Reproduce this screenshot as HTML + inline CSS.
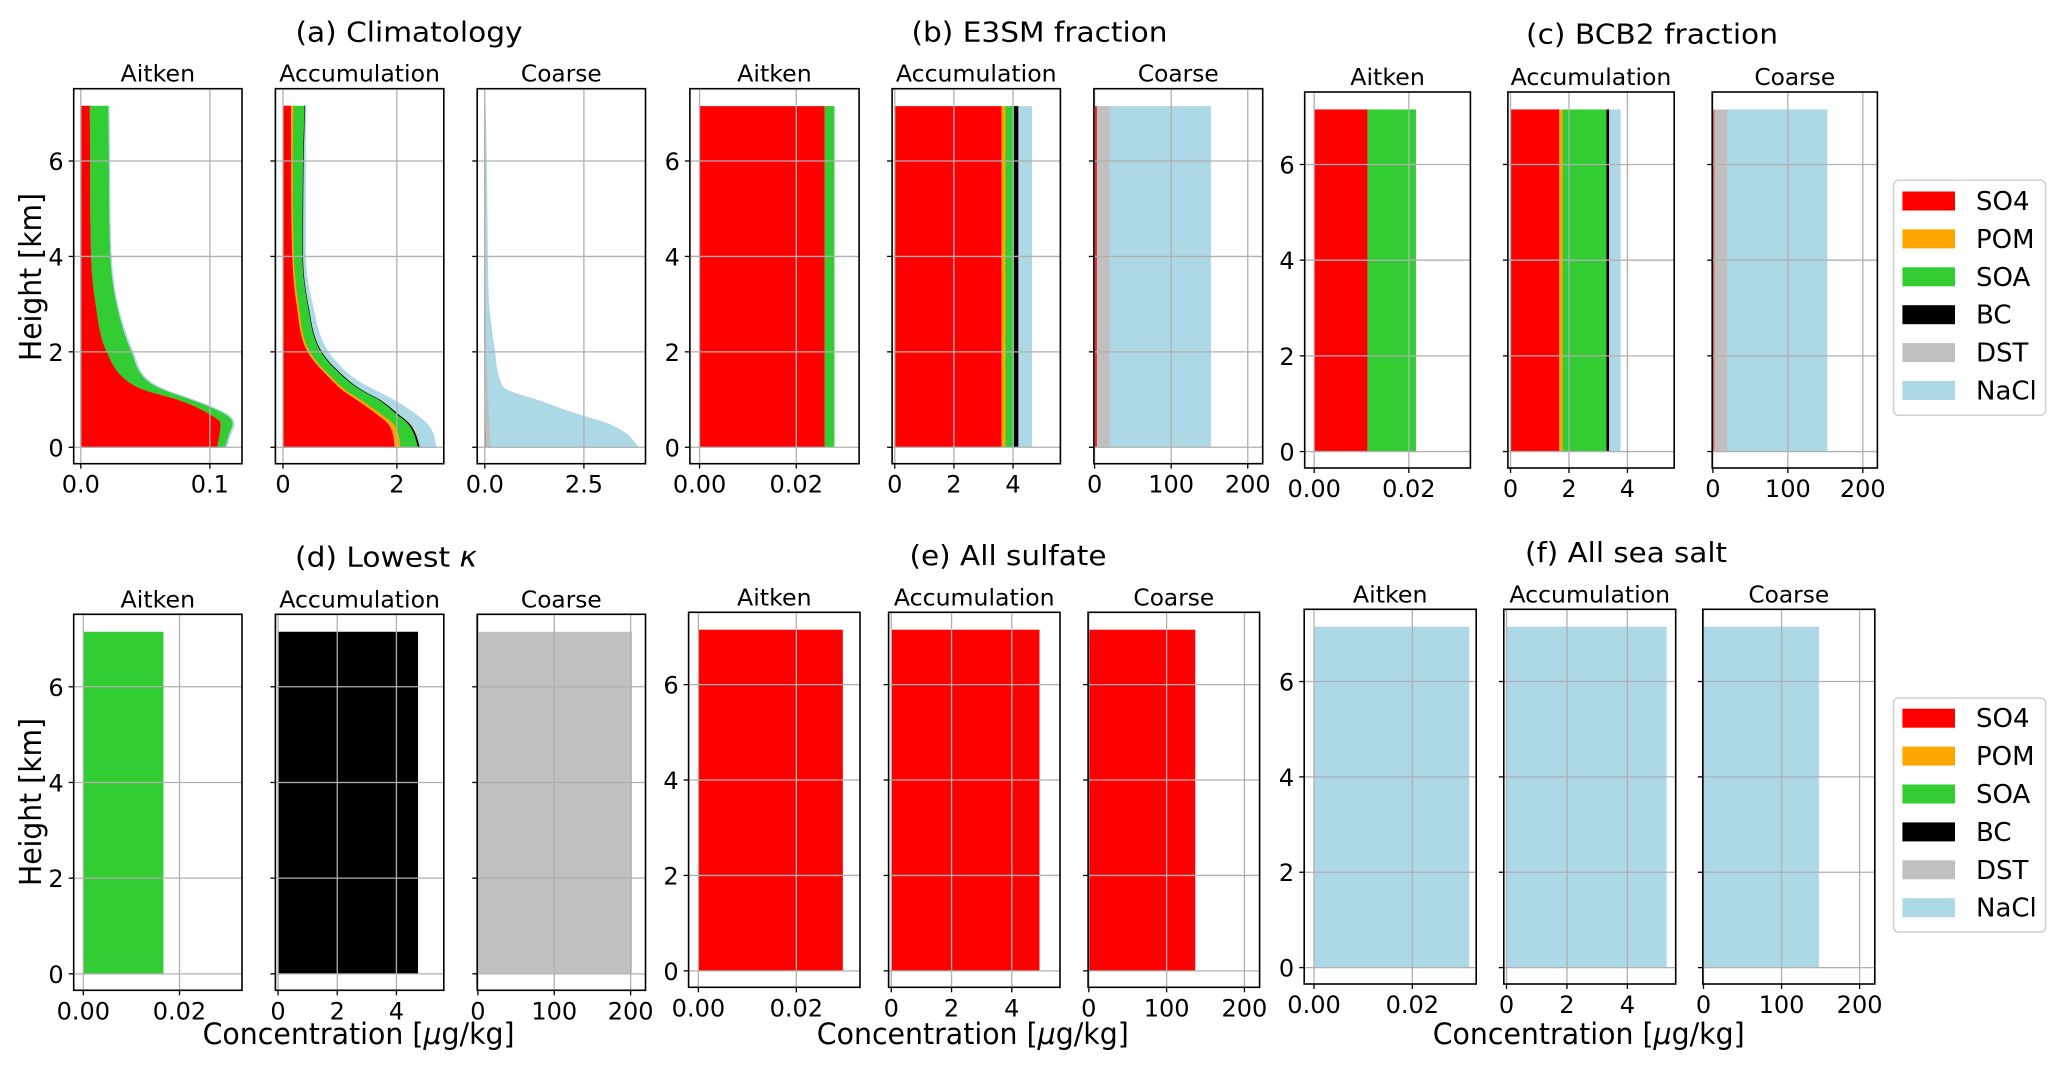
<!DOCTYPE html>
<html><head><meta charset="utf-8"><style>
html,body{margin:0;padding:0;background:#fff;}
svg{display:block;font-family:"DejaVu Sans","Liberation Sans",sans-serif;}
</style></head><body>
<svg id="fig" width="2067" height="1075" viewBox="0 0 2067 1075" xmlns="http://www.w3.org/2000/svg"></svg>
<script>
// ---- data ----
const species = ['SO4','POM','SOA','BC','DST','NaCl'];
const heights = [0,0.3,0.5,0.7,1.0,1.2,1.4,2,3,4,6,7.15];
// climatology Aitken (per species, ug/kg)
const climAitSO4 = [0.106,0.108,0.1087,0.1,0.0758,0.05,0.036,0.0204,0.0118,0.0083,0.0075,0.0073];
const climAitPOM = [0,0,0,0,0,0,0,0,0,0,0,0];
const climAitSOA = [0.006,0.0075,0.0093,0.012,0.0102,0.015,0.0156,0.0191,0.0162,0.0149,0.0145,0.0142];
const climAitBC  = [0,0,0,0,0,0,0,0,0,0,0,0];
const climAitDST = [0,0,0,0,0,0,0,0,0,0,0,0];
const climAitNaCl= [0.001,0.001,0.001,0.001,0.001,0.001,0.001,0.001,0.0005,0.0005,0.0005,0.0005];
// climatology Accumulation
const climAccSO4 = [1.97,1.93,1.85,1.65,1.30,1.05,0.87,0.44,0.245,0.17,0.15,0.149];
const climAccPOM = [0.10,0.10,0.09,0.08,0.07,0.06,0.05,0.04,0.035,0.03,0.03,0.04];
const climAccSOA = [0.31,0.27,0.26,0.27,0.32,0.27,0.225,0.195,0.16,0.15,0.18,0.196];
const climAccBC  = [0.03,0.03,0.03,0.03,0.02,0.02,0.02,0.015,0.01,0.01,0.01,0.01];
const climAccDST = [0.01,0.01,0.01,0.01,0.01,0.01,0.01,0.005,0.005,0.005,0.005,0.005];
const climAccNaCl= [0.27,0.29,0.28,0.28,0.21,0.19,0.125,0.10,0.06,0.03,0.02,0.005];
// climatology Coarse
const climCoaSO4 = [0.03,0.03,0.025,0.02,0.015,0.01,0.01,0.005,0.003,0.002,0.001,0.001];
const climCoaPOM = [0,0,0,0,0,0,0,0,0,0,0,0];
const climCoaSOA = [0,0,0,0,0,0,0,0,0,0,0,0];
const climCoaBC  = [0,0,0,0,0,0,0,0,0,0,0,0];
const climCoaDST = [0.12,0.11,0.1,0.09,0.08,0.07,0.06,0.04,0.03,0.02,0.01,0.01];
const climCoaNaCl= [3.72,3.40,2.955,2.19,1.185,0.47,0.31,0.205,0.067,0.048,0.029,0.0];
// column-uniform composition (SO4,POM,SOA,BC,DST,NaCl)
const e3smAit = [0.0259,0,0.002,0,0,0];
const e3smAcc = [3.61,0.13,0.29,0.15,0.03,0.43];
const e3smCoa = [3,0,0,0,17,132];
const bcb2Ait = [0.0113,0,0.0102,0,0,0];
const bcb2Acc = [1.67,0.11,1.50,0.09,0.05,0.35];
const bcb2Coa = [2,0,0,0,18,132.7];
const lowkAit = [0,0,0.01666,0,0,0];
const lowkAcc = [0,0,0,4.73,0,0];
const lowkCoa = [0,0,0,0,201.7,0];
const sulfAit = [0.0295,0,0,0,0,0];
const sulfAcc = [4.92,0,0,0,0,0];
const sulfCoa = [136.8,0,0,0,0,0];
const saltAit = [0,0,0,0,0,0.0316];
const saltAcc = [0,0,0,0,0,5.30];
const saltCoa = [0,0,0,0,0,148];
const barTop = 7.15;
const yTicks = [0,2,4,6];
const modeNames = ['Aitken','Accumulation','Coarse'];

// ---- style / layout ----
const colors = ['#ff0000','#ffa500','#32cd32','#000000','#c0c0c0','#add8e6'];
const NS = 'http://www.w3.org/2000/svg';
const svg = document.getElementById('fig');
function mk(tag, attrs, parent){
  const e = document.createElementNS(NS, tag);
  for (const k in attrs) e.setAttribute(k, attrs[k]);
  (parent||svg).appendChild(e);
  return e;
}
// monotone cubic (Fritsch-Carlson) interpolation of ys over xs
function monotone(xs, ys){
  const n = xs.length, d = [], m = new Array(n);
  for (let i = 0; i < n-1; i++) d.push((ys[i+1]-ys[i])/(xs[i+1]-xs[i]));
  m[0] = d[0]; m[n-1] = d[n-2];
  for (let i = 1; i < n-1; i++) m[i] = (d[i-1]*d[i] <= 0) ? 0 : (d[i-1]+d[i])/2;
  for (let i = 0; i < n-1; i++){
    if (d[i] === 0){ m[i] = 0; m[i+1] = 0; continue; }
    const a = m[i]/d[i], b = m[i+1]/d[i], s = a*a + b*b;
    if (s > 9){ const t = 3/Math.sqrt(s); m[i] = t*a*d[i]; m[i+1] = t*b*d[i]; }
  }
  return function(x){
    let i = 0; while (i < n-2 && x > xs[i+1]) i++;
    const h = xs[i+1]-xs[i], t = (x-xs[i])/h, t2 = t*t, t3 = t2*t;
    return (2*t3-3*t2+1)*ys[i] + (t3-2*t2+t)*h*m[i] + (-2*t3+3*t2)*ys[i+1] + (t3-t2)*h*m[i+1];
  };
}
const ylim = [-0.344, 7.515];
const groups = [
  {id:'a', title:'(a) Climatology', tx:409, ty:41.7, tw:227, top:88.7, bottom:463.7,
   boxes:[[73.7,242],[275.4,443.8],[477.2,645.5]],
   xlims:[[-0.0055,0.1249],[-0.133,2.824],[-0.192,4.054]],
   xt:[[0,0.1],[0,2],[0,2.5]], xtl:[['0.0','0.1'],['0','2'],['0.0','2.5']],
   clim:[[climAitSO4,climAitPOM,climAitSOA,climAitBC,climAitDST,climAitNaCl],
         [climAccSO4,climAccPOM,climAccSOA,climAccBC,climAccDST,climAccNaCl],
         [climCoaSO4,climCoaPOM,climCoaSOA,climCoaBC,climCoaDST,climCoaNaCl]]},
  {id:'b', title:'(b) E3SM fraction', tx:1039.5, ty:41.7, tw:256, top:88.7, bottom:463.7,
   boxes:[[689.9,859.1],[892.1,1060.4],[1093.9,1262.7]], bars:[e3smAit,e3smAcc,e3smCoa]},
  {id:'c', title:'(c) BCB2 fraction', tx:1652, ty:43.3, tw:252, top:92, bottom:468,
   boxes:[[1304.7,1470.4],[1507.9,1674.2],[1712.2,1877.4]], bars:[bcb2Ait,bcb2Acc,bcb2Coa]},
  {id:'d', title:'(d) Lowest ', kappa:true, tx:386, ty:566.7, tw:182, top:614.3, bottom:990.3,
   boxes:[[73.7,242],[275.4,443.8],[477.2,645.5]], bars:[lowkAit,lowkAcc,lowkCoa]},
  {id:'e', title:'(e) All sulfate', tx:1008, ty:565, tw:197, top:612.3, bottom:987.3,
   boxes:[[688.6,860],[888.6,1060],[1088.1,1259.6]], bars:[sulfAit,sulfAcc,sulfCoa]},
  {id:'f', title:'(f) All sea salt', tx:1626, ty:562, tw:202, top:609.3, bottom:984,
   boxes:[[1304.2,1476.2],[1503.8,1675.7],[1702.8,1874.8]], bars:[saltAit,saltAcc,saltCoa]}
];
const barXlims = [[-0.002,0.033],[-0.09,5.6],[-0.9,219.5]];
const barXt = [[0,0.02],[0,2,4],[0,100,200]];
const barXtl = [['0.00','0.02'],['0','2','4'],['0','100','200']];
const subW = [74.6,160.7,80.8];
const NS_SAMPLES = 120;

groups.forEach(g => {
  const gEl = mk('g', {});
  
  
  const t = mk('text', {x:g.tx, y:g.ty, 'text-anchor':'middle', 'font-size':28, fill:'#000', textLength:g.tw, lengthAdjust:'spacingAndGlyphs'}, gEl);
  t.textContent = g.title;
  if (g.kappa){ const ts = mk('tspan', {'font-style':'italic'}, t); ts.textContent = 'κ'; }
  
  

  g.boxes.forEach((b, i) => {
    const xl = g.clim ? g.xlims[i] : barXlims[i];
    const xt = g.clim ? g.xt[i] : barXt[i];
    const xtl = g.clim ? g.xtl[i] : barXtl[i];
    const L = b[0], R = b[1], T = g.top, B = g.bottom;
    const X = v => L + (v - xl[0]) / (xl[1] - xl[0]) * (R - L);
    const Y = v => B - (v - ylim[0]) / (ylim[1] - ylim[0]) * (B - T);
    const ax = mk('g', {}, gEl);
    
    
    mk('rect', {x:L, y:T, width:R-L, height:B-T, fill:'#fff'}, ax);
    if (g.clim){
      const comps = g.clim[i];
      const hMax = heights[heights.length-1];
      const hs = [];
      for (let s = 0; s <= NS_SAMPLES; s++) hs.push(hMax * s / NS_SAMPLES);
      let prevCum = heights.map(() => 0);
      let prevF = () => 0;
      comps.forEach((arr, k) => {
        const cum = arr.map((v, j) => prevCum[j] + v);
        const f = monotone(heights, cum);
        const pf = prevF;
        const pts = [];
        hs.forEach(h => pts.push(X(Math.max(f(h), pf(h))).toFixed(2) + ',' + Y(h).toFixed(2)));
        for (let s = hs.length - 1; s >= 0; s--) pts.push(X(pf(hs[s])).toFixed(2) + ',' + Y(hs[s]).toFixed(2));
        const p = mk('polygon', {points:pts.join(' '), fill:colors[k], stroke:colors[k], 'stroke-width':0.8}, ax);
        
        
        prevCum = cum;
        prevF = h => Math.max(f(h), pf(h));
      });
    } else {
      const vals = g.bars[i];
      let acc = 0;
      vals.forEach((v, k) => {
        if (v > 0){
          const r = mk('rect', {x:X(acc), y:Y(barTop), width:X(acc+v)-X(acc), height:Y(0)-Y(barTop), fill:colors[k]}, ax);
          
          
        }
        acc += v;
      });
    }
    xt.forEach(v => mk('line', {x1:X(v), x2:X(v), y1:T, y2:B, stroke:'#b0b0b0', 'stroke-width':1.3}, ax));
    yTicks.forEach(v => mk('line', {x1:L, x2:R, y1:Y(v), y2:Y(v), stroke:'#b0b0b0', 'stroke-width':1.3}, ax));
    mk('rect', {x:L, y:T, width:R-L, height:B-T, fill:'none', stroke:'#000', 'stroke-width':1.6}, ax);
    xt.forEach((v, j) => {
      mk('line', {x1:X(v), x2:X(v), y1:B, y2:B+5, stroke:'#000', 'stroke-width':1.3}, ax);
      const tl = mk('text', {x:X(v), y:B+29, 'text-anchor':'middle', 'font-size':24, fill:'#000'}, ax);
      tl.textContent = xtl[j];
      
      
    });
    yTicks.forEach(v => {
      mk('line', {x1:L-5, x2:L, y1:Y(v), y2:Y(v), stroke:'#000', 'stroke-width':1.3}, ax);
      if (i === 0){
        const tl = mk('text', {x:L-10, y:Y(v)+9, 'text-anchor':'end', 'font-size':24, fill:'#000'}, ax);
        tl.textContent = String(v);
        
        
      }
    });
    const st = mk('text', {x:(L+R)/2, y:T-7, 'text-anchor':'middle', 'font-size':23, fill:'#000', textLength:subW[i], lengthAdjust:'spacingAndGlyphs'}, ax);
    st.textContent = modeNames[i];
    
    
  });
});

[[31,277],[31,802]].forEach(p => {
  const t = mk('text', {x:0, y:0, transform:'translate(' + (p[0]+10) + ',' + p[1] + ') rotate(-90)', 'text-anchor':'middle', 'font-size':30, fill:'#000', textLength:168, lengthAdjust:'spacingAndGlyphs'});
  t.textContent = 'Height [km]';
  
  
});
[358.6, 972.8, 1588.7].forEach(cx => {
  const t = mk('text', {x:cx, y:1044, 'text-anchor':'middle', 'font-size':29, fill:'#000', textLength:312, lengthAdjust:'spacingAndGlyphs'});
  t.appendChild(document.createTextNode('Concentration ['));
  const m = mk('tspan', {'font-style':'italic'}, t); m.textContent = 'μ';
  t.appendChild(document.createTextNode('g/kg]'));
  
  
});
[[180.3,415.3,201],[698,932,718.2]].forEach((lg, li) => {
  const gl = mk('g', {});
  
  
  mk('rect', {x:1893.6, y:lg[0], width:152, height:lg[1]-lg[0], rx:5, fill:'#fff', stroke:'#d0d0d0', 'stroke-width':1.5}, gl);
  species.forEach((s, k) => {
    const cy = lg[2] + k * 37.9;
    const e = mk('g', {}, gl);
    
    
    mk('rect', {x:1902.4, y:cy-9.5, width:52.6, height:19, fill:colors[k]}, e);
    const t = mk('text', {x:1976, y:cy+9, 'font-size':26, fill:'#000'}, e);
    t.textContent = s;
  });
});
</script>
</body></html>
